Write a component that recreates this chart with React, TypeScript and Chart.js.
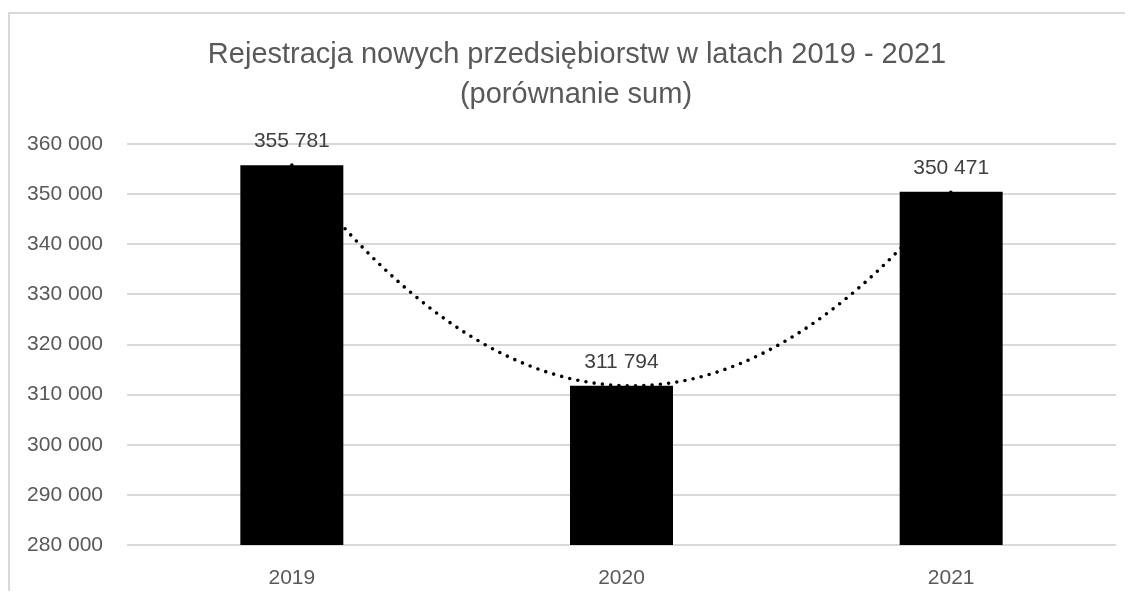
import React, { useEffect, useRef } from "react";
import { Chart, registerables } from "chart.js";

Chart.register(...registerables);

const categories: string[] = ["2019", "2020", "2021"];
const registrations: number[] = [355781, 311794, 350471];
const titleLines: string[] = [
  "Rejestracja nowych przedsiębiorstw w latach 2019 - 2021",
  "(porównanie sum)",
];
const yMin = 280000;
const yMax = 360000;
const yStep = 10000;

const FONT = "'Liberation Sans', Arial, sans-serif";

function fmt(v: number): string {
  return String(Math.round(v)).replace(/\B(?=(\d{3})+(?!\d))/g, " ");
}

const titlePlugin = {
  id: "customTitle",
  afterDraw(chart: any) {
    const ctx = chart.ctx;
    ctx.save();
    ctx.font = `29px ${FONT}`;
    ctx.fillStyle = "#595959";
    ctx.textAlign = "center";
    ctx.textBaseline = "alphabetic";
    ctx.fillText(titleLines[0], 577, 63);
    ctx.fillText(titleLines[1], 576, 103);
    ctx.restore();
  },
};

const trendPlugin = {
  id: "polyTrend",
  afterDatasetsDraw(chart: any) {
    const vals: number[] = chart.data.datasets[0].data;
    const n = vals.length;
    // least-squares quadratic fit y = a + b x + c x^2 on x = 0..n-1
    const S = [0, 0, 0, 0, 0];
    const T = [0, 0, 0];
    for (let i = 0; i < n; i++) {
      for (let k = 0; k < 5; k++) S[k] += Math.pow(i, k);
      for (let k = 0; k < 3; k++) T[k] += vals[i] * Math.pow(i, k);
    }
    const M = [
      [S[0], S[1], S[2], T[0]],
      [S[1], S[2], S[3], T[1]],
      [S[2], S[3], S[4], T[2]],
    ];
    for (let c = 0; c < 3; c++) {
      let p = c;
      for (let r = c + 1; r < 3; r++) if (Math.abs(M[r][c]) > Math.abs(M[p][c])) p = r;
      [M[c], M[p]] = [M[p], M[c]];
      for (let r = 0; r < 3; r++) {
        if (r === c) continue;
        const f = M[r][c] / M[c][c];
        for (let k = c; k < 4; k++) M[r][k] -= f * M[c][k];
      }
    }
    const coef = [M[0][3] / M[0][0], M[1][3] / M[1][1], M[2][3] / M[2][2]];
    const xs = chart.scales.x;
    const ys = chart.scales.y;
    const ctx = chart.ctx;
    const x0 = xs.getPixelForValue(0);
    const x1 = xs.getPixelForValue(n - 1);
    ctx.save();
    ctx.beginPath();
    const steps = 400;
    for (let s = 0; s <= steps; s++) {
      const t = ((n - 1) * s) / steps;
      const v = coef[0] + coef[1] * t + coef[2] * t * t;
      const px = x0 + ((x1 - x0) * s) / steps;
      const py = ys.getPixelForValue(v);
      if (s === 0) ctx.moveTo(px, py);
      else ctx.lineTo(px, py);
    }
    ctx.strokeStyle = "#000000";
    ctx.lineWidth = 3.6;
    ctx.lineCap = "round";
    ctx.setLineDash([0, 8.3]);
    ctx.stroke();
    ctx.restore();
  },
};

const labelPlugin = {
  id: "valueLabels",
  afterDatasetsDraw(chart: any) {
    const meta = chart.getDatasetMeta(0);
    const vals: number[] = chart.data.datasets[0].data;
    const ctx = chart.ctx;
    ctx.save();
    ctx.font = `21px ${FONT}`;
    ctx.fillStyle = "#404040";
    ctx.textAlign = "center";
    ctx.textBaseline = "alphabetic";
    meta.data.forEach((bar: any, i: number) => {
      ctx.fillText(fmt(vals[i]), bar.x, bar.y - 18);
    });
    ctx.restore();
  },
};

export default function App() {
  const ref = useRef<HTMLCanvasElement | null>(null);

  useEffect(() => {
    document.body.style.overflow = "hidden";
    const canvas = ref.current;
    if (!canvas) return;
    const chart = new Chart(canvas, {
      type: "bar",
      data: {
        labels: categories,
        datasets: [
          {
            data: registrations,
            backgroundColor: "#000000",
            borderWidth: 0,
            barPercentage: 0.3124,
            categoryPercentage: 1,
          },
        ],
      },
      options: {
        responsive: false,
        animation: false,
        devicePixelRatio: 1,
        layout: { padding: { top: 144, right: 17, left: 0, bottom: 9 } },
        plugins: {
          legend: { display: false },
          tooltip: { enabled: false },
          title: { display: false },
        },
        scales: {
          x: {
            grid: { display: false },
            border: { display: false },
            ticks: {
              font: { family: FONT, size: 21 },
              color: "#595959",
              padding: 13,
            },
            afterFit: (s: any) => {
              s.height = 45;
            },
          },
          y: {
            min: yMin,
            max: yMax,
            grid: { color: "#d9d9d9", lineWidth: 2, drawTicks: false },
            border: { display: false },
            ticks: {
              stepSize: yStep,
              font: { family: FONT, size: 21 },
              color: "#595959",
              padding: 24,
              callback: (v: any) => fmt(Number(v)),
            },
            afterFit: (s: any) => {
              s.width = 127;
            },
          },
        },
      },
      plugins: [trendPlugin, labelPlugin, titlePlugin],
    } as any);
    return () => chart.destroy();
  }, []);

  return (
    <div
      style={{
        position: "relative",
        width: 1133,
        height: 599,
        margin: -8,
        overflow: "hidden",
        background: "#ffffff",
      }}
    >
      <div
        style={{
          position: "absolute",
          left: 8,
          top: 12,
          width: 1200,
          height: 700,
          border: "2px solid #d9d9d9",
          boxSizing: "border-box",
        }}
      />
      <canvas
        ref={ref}
        width={1133}
        height={599}
        style={{ position: "absolute", left: 0, top: 0, width: 1133, height: 599, display: "block" }}
      />
    </div>
  );
}
